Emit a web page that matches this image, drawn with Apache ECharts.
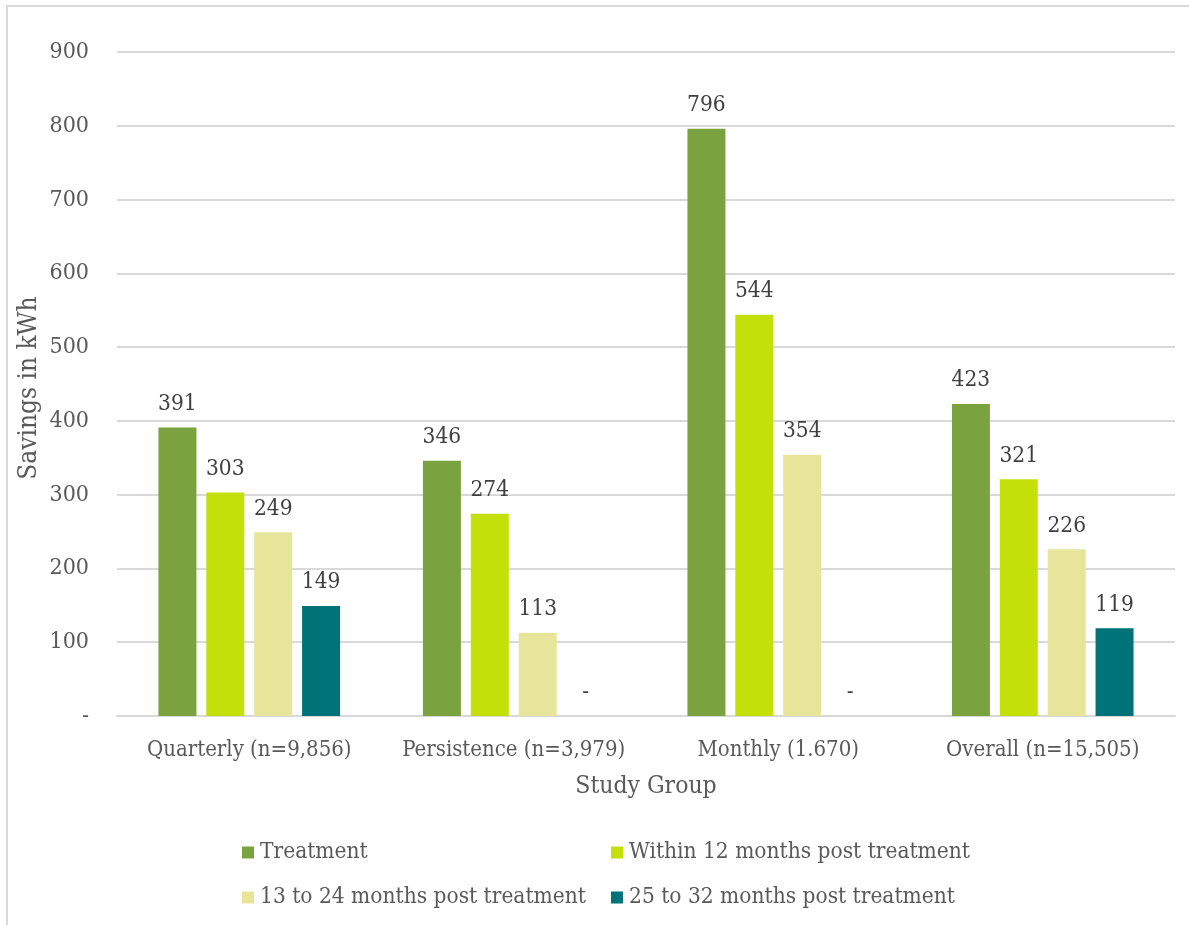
<!DOCTYPE html>
<html>
<head>
<meta charset="utf-8">
<script src="https://cdn.jsdelivr.net/npm/echarts@6/dist/echarts.min.js"></script>
<style>html,body{margin:0;padding:0;background:#fff}#c{width:1189px;height:925px}</style>
</head>
<body>
<div id="c"></div>
<script>
const categories = ['Quarterly (n=9,856)', 'Persistence (n=3,979)', 'Monthly (1.670)', 'Overall (n=15,505)'];
const seriesNames = ['Treatment', 'Within 12 months post treatment', '13 to 24 months post treatment', '25 to 32 months post treatment'];
const treatment = [391, 346, 796, 423];
const within12 = [303, 274, 544, 321];
const months13to24 = [249, 113, 354, 226];
const months25to32 = [149, 0, 0, 119];
const yTicks = [0, 100, 200, 300, 400, 500, 600, 700, 800, 900];
const yAxisTitle = 'Savings in kWh';
const xAxisTitle = 'Study Group';
const colors = ['#7AA33F', '#C3E00A', '#E6E59A', '#007378'];

const FONT = 'DejaVu Serif Condensed';
const values = [treatment, within12, months13to24, months25to32];
const chart = echarts.init(document.getElementById('c'), null, {renderer: 'canvas'});

const legendPos = [
  {left: 242, top: 841},
  {left: 611, top: 841},
  {left: 242, top: 886},
  {left: 611, top: 886}
];

chart.setOption({
  animation: false,
  backgroundColor: '#fff',
  graphic: [{
    type: 'rect', shape: {x: 7, y: 6, width: 1250, height: 1000},
    style: {fill: 'none', stroke: '#d9d9d9', lineWidth: 2}, silent: true
  }, {
    type: 'text', x: 29, y: 388, rotation: Math.PI / 2,
    style: {text: yAxisTitle, fontFamily: FONT, fontSize: 26, fill: '#595959',
      align: 'center', verticalAlign: 'middle'}, silent: true
  }],
  grid: {left: 117, right: 14, top: 52, bottom: 209, containLabel: false},
  legend: seriesNames.map((n, i) => ({
    data: [n], left: legendPos[i].left, top: legendPos[i].top, padding: 0,
    icon: 'rect', itemWidth: 12, itemHeight: 12, itemGap: 4,
    textStyle: {fontFamily: FONT, fontSize: 22.5, color: '#595959', padding: [0, 0, 0, 1]}
  })),
  xAxis: {
    type: 'category', data: categories,
    name: xAxisTitle, nameLocation: 'middle', nameGap: 58,
    nameTextStyle: {fontFamily: FONT, fontSize: 24.5, color: '#595959'},
    axisLine: {lineStyle: {color: '#d9d9d9', width: 2}},
    axisTick: {show: false},
    axisLabel: {fontFamily: FONT, fontSize: 22, color: '#595959', margin: 23, interval: 0}
  },
  yAxis: {
    type: 'value', min: 0, max: 900, interval: 100,
    axisLine: {show: false}, axisTick: {show: false},
    splitLine: {lineStyle: {color: '#d9d9d9', width: 2}},
    axisLabel: {fontFamily: FONT, fontSize: 23, color: '#595959', margin: 28,
      formatter: v => yTicks.includes(v) ? (v === 0 ? '-' : String(v)) : ''}
  },
  series: seriesNames.map((n, i) => ({
    name: n, type: 'bar', data: values[i],
    barWidth: 38, barGap: '26%', barCategoryGap: '31%',
    itemStyle: {color: colors[i]},
    label: {show: true, position: 'top', distance: 12,
      fontFamily: FONT, fontSize: 22.5, color: '#404040',
      formatter: p => p.value === 0 ? '-' : String(p.value)}
  }))
});
</script>
</body>
</html>
